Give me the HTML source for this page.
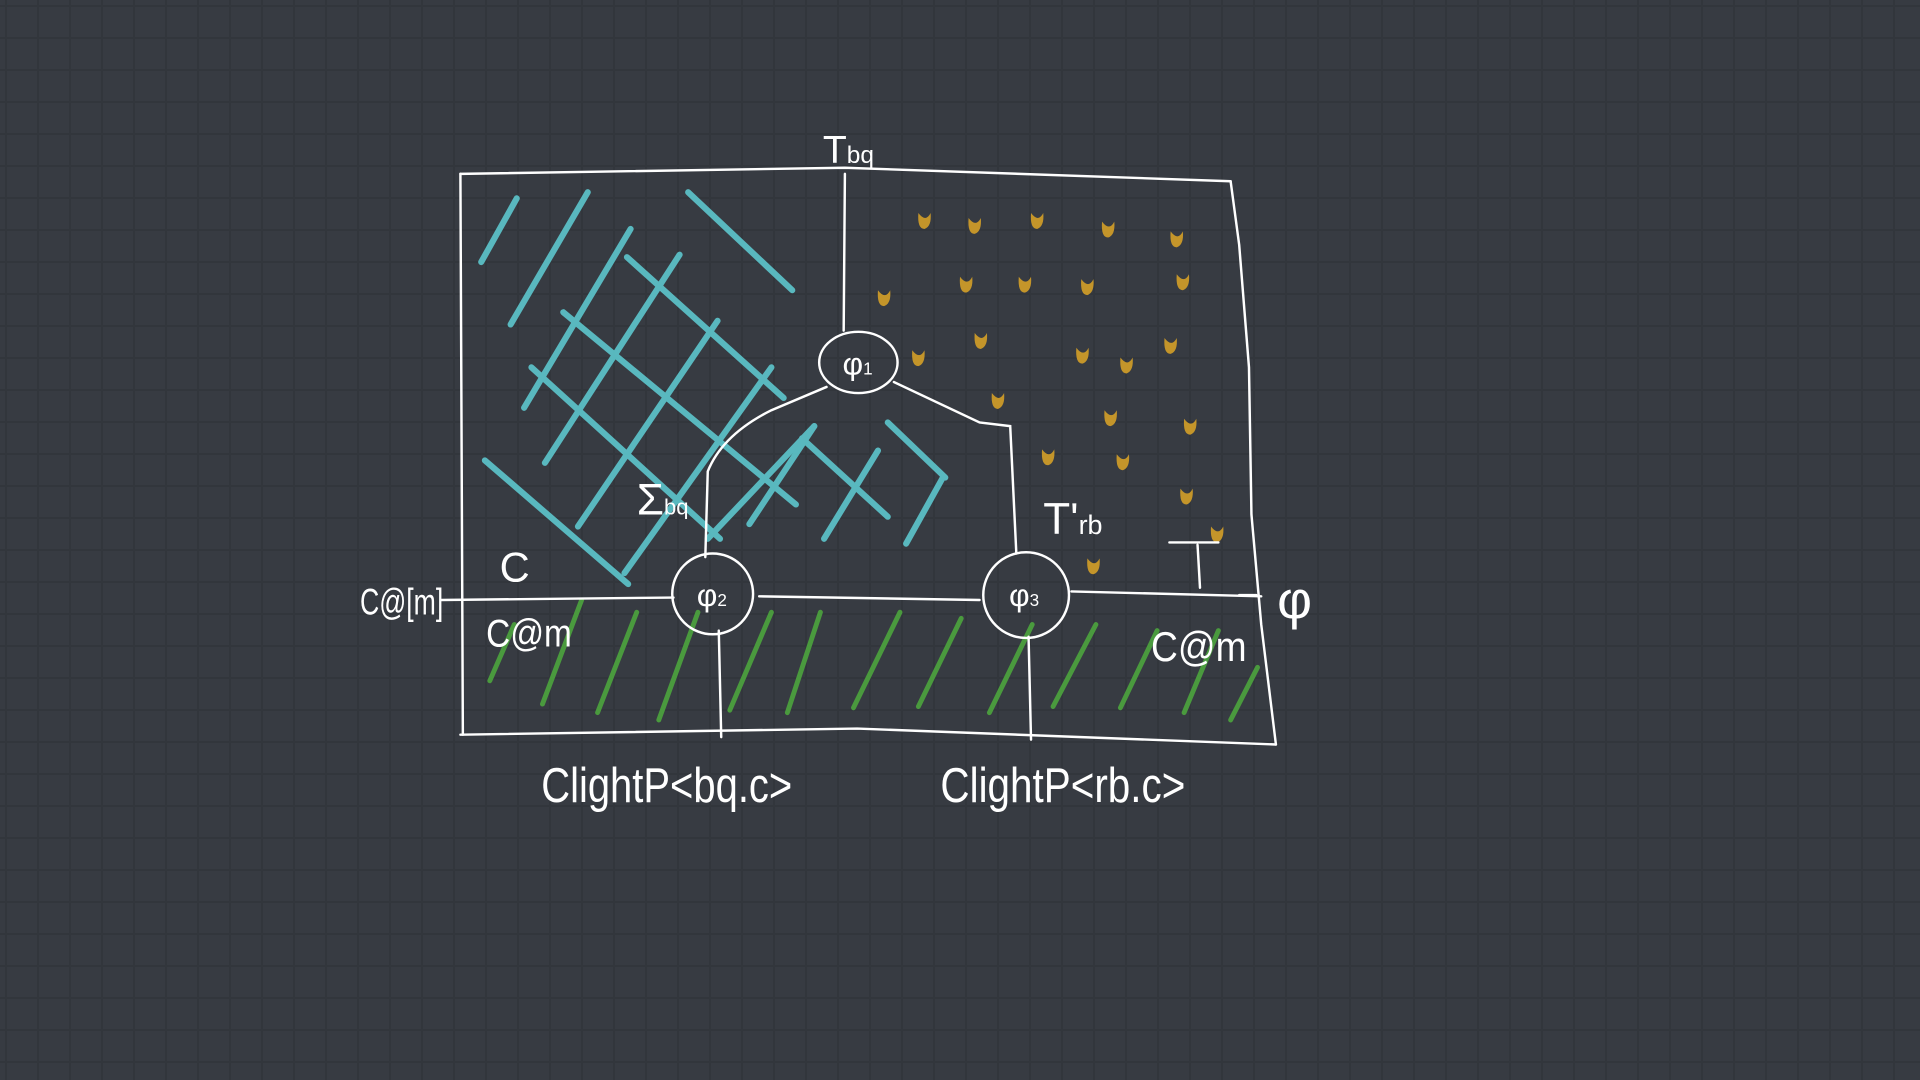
<!DOCTYPE html>
<html><head><meta charset="utf-8"><style>
html,body{margin:0;padding:0;}
body{width:1920px;height:1080px;overflow:hidden;background-color:#373b42;
background-image:linear-gradient(#32363c 2px,transparent 2px),linear-gradient(90deg,#32363c 2px,transparent 2px);
background-size:32px 32px;background-position:5px 5px;}
svg{position:absolute;left:0;top:0;}
text{font-family:"Liberation Sans",sans-serif;fill:#fff;font-weight:300;}
</style></head><body>
<svg width="1920" height="1080" viewBox="0 0 1568 882">
<g id="cyan" stroke="#5bbfc6" stroke-width="5" stroke-linecap="round" fill="none" opacity="0.95"></g>
<g id="gold" fill="#c4952a"></g>
<g id="green" stroke="#4a9a3e" stroke-width="4" stroke-linecap="round" fill="none"></g>
<g stroke="#fff" stroke-width="2" fill="none" stroke-linecap="round">
<path d="M376,142 L690,137 L1005,148"/>
<path d="M1005,148 L1012,200 L1020,300 L1022,420 L1030,510 L1042,608"/>
<path d="M376,600 L700,595 L1042,608"/>
<path d="M376,142 L378,600"/>
<path d="M360,490 L550,488 M620,487 L800,490 M875,483 L1030,487"/>
<path d="M690,142 L689,270"/>
<ellipse cx="701" cy="296" rx="32" ry="25"/>
<circle cx="582" cy="485" r="33"/>
<circle cx="838" cy="486" r="35"/>
<path d="M675,316 L630,335 Q590,355 578,385 L576,455"/>
<path d="M730,312 L800,345 L825,348 L830,452"/>
<path d="M587,515 L589,602"/>
<path d="M840,520 L842,604"/>
<path d="M955,443 L995,443 M978,445 L980,480 M1012,486 L1026,486"/>
</g>
<g>
<text x="672" y="133" font-size="32">T<tspan font-size="20">bq</tspan></text>
<text x="688" y="306" font-size="26">φ<tspan font-size="14">1</tspan></text>
<text x="569" y="495" font-size="26">φ<tspan font-size="14">2</tspan></text>
<text x="824" y="495" font-size="26">φ<tspan font-size="14">3</tspan></text>
<text x="520" y="420" font-size="36">Σ<tspan font-size="18">bq</tspan></text>
<text x="852" y="436" font-size="36">T'<tspan font-size="22">rb</tspan></text>
<text x="408" y="475" font-size="34">C</text>
<text x="397" y="528" font-size="32" textLength="70" lengthAdjust="spacingAndGlyphs">C@m</text>
<text x="294" y="502" font-size="30" textLength="68" lengthAdjust="spacingAndGlyphs">C@[m]</text>
<text x="940" y="540" font-size="34" textLength="78" lengthAdjust="spacingAndGlyphs">C@m</text>
<text x="1043" y="505" font-size="44">φ</text>
<text x="442" y="655" font-size="40" textLength="205" lengthAdjust="spacingAndGlyphs">ClightP&lt;bq.c&gt;</text>
<text x="768" y="655" font-size="40" textLength="200" lengthAdjust="spacingAndGlyphs">ClightP&lt;rb.c&gt;</text>
</g>
</svg>
<script>
const cyanStrokes=[[393,214,422,162],[417,265,480,157],[428,333,515,187],[445,378,555,208],[472,430,586,262],[510,468,630,300],[578,440,665,348],[612,428,665,348],[673,440,717,368],[740,444,770,390],
[562,157,647,237],[512,210,640,325],[460,255,650,412],[434,300,588,440],[396,376,513,477],[655,358,725,422],[725,345,772,390]];
const goldDots=[[755,180],[796,184],[847,180],[905,187],[961,195],[789,232],[837,232],[888,234],[966,230],[722,243],[801,278],[750,292],[884,290],[920,298],[956,282],[815,327],[907,341],[972,348],[856,373],[917,377],[969,405],[994,436],[893,462]];
const greenStrokes=[[400,556,420,510],[443,575,475,490],[488,582,520,500],[538,588,570,500],[596,580,630,500],[643,582,670,500],[697,578,735,500],[750,577,785,505],[808,582,843,510],[860,577,895,510],[915,578,945,515],[967,582,995,515],[1005,588,1027,545]];
const ns='http://www.w3.org/2000/svg';
const cg=document.getElementById('cyan');
cyanStrokes.forEach(s=>{const l=document.createElementNS(ns,'line');
l.setAttribute('x1',s[0]);l.setAttribute('y1',s[1]);l.setAttribute('x2',s[2]);l.setAttribute('y2',s[3]);


cg.appendChild(l);});
const gg=document.getElementById('gold');
goldDots.forEach(d=>{const p=document.createElementNS(ns,'path');
p.setAttribute('d',`M${d[0]-5},${d[1]-6} Q${d[0]-6},${d[1]+7} ${d[0]},${d[1]+7} Q${d[0]+6},${d[1]+5} ${d[0]+5},${d[1]-6} Q${d[0]+1},${d[1]+2} ${d[0]-5},${d[1]-6}Z`);


gg.appendChild(p);});
const grg=document.getElementById('green');
greenStrokes.forEach(s=>{const l=document.createElementNS(ns,'line');
l.setAttribute('x1',s[0]);l.setAttribute('y1',s[1]);l.setAttribute('x2',s[2]);l.setAttribute('y2',s[3]);


grg.appendChild(l);});
</script>
</body></html>
